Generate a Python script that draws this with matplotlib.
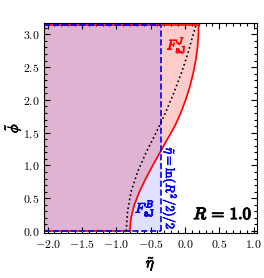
import numpy as np
import matplotlib
matplotlib.use("Agg")
import matplotlib.pyplot as plt
import matplotlib.patheffects as pe
from matplotlib.ticker import MultipleLocator, FuncFormatter

plt.rcParams["mathtext.fontset"] = "cm"
plt.rcParams["font.family"] = "serif"
plt.rcParams["font.serif"] = ["DejaVu Serif"]

R = 1.0
eta_min = -2.05
eta_max = 1.05

#  red boundary (F_aJ^J region)
phi_red = [0.0, 0.2, 0.4, 0.6, 0.8, 1.0, 1.2, 1.4, 1.6, 1.8, 2.0, 2.2, 2.4, 2.6, 2.8, 3.0, np.pi]
eta_red = [-0.803, -0.785, -0.737, -0.663, -0.571, -0.469, -0.362, -0.256, -0.148, -0.062, 0.010, 0.070, 0.118, 0.156, 0.182, 0.196, 0.199]

#  black dotted curve
phi_dot = [0.0, 0.3, 0.6, 0.9, 1.2, 1.5, 1.8, 2.1, 2.4, 2.7, 3.0, np.pi]
eta_dot = [-0.855, -0.835, -0.785, -0.69, -0.565, -0.42, -0.285, -0.165, -0.055, 0.04, 0.12, 0.16]

#  blue boundary  eta = ln(R^2/2)/2
eta_blue = np.log(R**2 / 2) / 2

fig = plt.figure(figsize=(2.64, 2.78), dpi=100)
ax = fig.add_axes([0.167, 0.162, 0.807, 0.755])

#  filled regions (overlap gives the mauve colour)
ax.fill_betweenx(phi_red, eta_min, eta_red, color="red", alpha=0.2, lw=0)
ax.fill_betweenx([0, np.pi], eta_min, eta_blue, color="blue", alpha=0.12, lw=0)

#  outlines
ax.plot(eta_red, phi_red, color="red", lw=1.2)
ax.plot([eta_min, eta_red[0]], [0, 0], color="red", lw=1.2)
ax.plot([eta_min, eta_red[-1]], [np.pi, np.pi], color="red", lw=1.2)
ax.plot([eta_blue, eta_blue], [0, np.pi], color="blue", lw=1.2, ls="--")
ax.plot([eta_min, eta_blue], [0, 0], color="blue", lw=1.2, ls="--")
ax.plot([eta_min, eta_blue], [np.pi, np.pi], color="blue", lw=1.2, ls="--")
ax.plot(eta_dot, phi_dot, color="black", lw=1.2, ls=":")

#  bold look for the cm glyphs
def thick(c, w=0.6):
    return [pe.withStroke(linewidth=w, foreground=c)]

ax.text(-0.12, 2.83, r"$F_{\rm aJ}^{J}$", color="red", fontsize=10, ha="center", va="center",
        path_effects=thick("red"))
ax.text(-0.58, 0.34, r"$F_{\rm aJ}^{B}$", color="blue", fontsize=10, ha="center", va="center",
        path_effects=thick("blue"))
ax.text(-0.225, 0.64, r"$\tilde{\eta} = \ln(R^2/2)/2$", color="blue", fontsize=9,
        rotation=270, ha="center", va="center", path_effects=thick("blue", 0.5))
ax.text(0.55, 0.25, r"$R\, =\, 1.0$", color="black", fontsize=12, ha="center", va="center",
        path_effects=thick("black", 0.9))

ax.set_xlim(eta_min, eta_max)
ax.set_ylim(-0.03, np.pi + 0.03)

#  ticks
bold = FuncFormatter(lambda v, p: r"$\mathbf{%.1f}$" % v)
ax.xaxis.set_major_locator(MultipleLocator(0.5))
ax.xaxis.set_minor_locator(MultipleLocator(0.1))
ax.yaxis.set_major_locator(MultipleLocator(0.5))
ax.yaxis.set_minor_locator(MultipleLocator(0.1))
ax.xaxis.set_major_formatter(bold)
ax.yaxis.set_major_formatter(bold)
ax.tick_params(which="both", direction="in", top=True, right=True, labelsize=8.5, width=0.8)
ax.tick_params(which="major", length=4)
ax.tick_params(which="minor", length=2)

ax.set_xlabel(r"$\tilde{\eta}$", fontsize=11, labelpad=3)
ax.set_ylabel(r"$\tilde{\phi}$", fontsize=10.5)
ax.yaxis.set_label_coords(-0.1, 0.5)
ax.xaxis.label.set_path_effects(thick("black", 0.6))
ax.yaxis.label.set_path_effects(thick("black", 0.6))

fig.savefig("out.png", dpi=100)
